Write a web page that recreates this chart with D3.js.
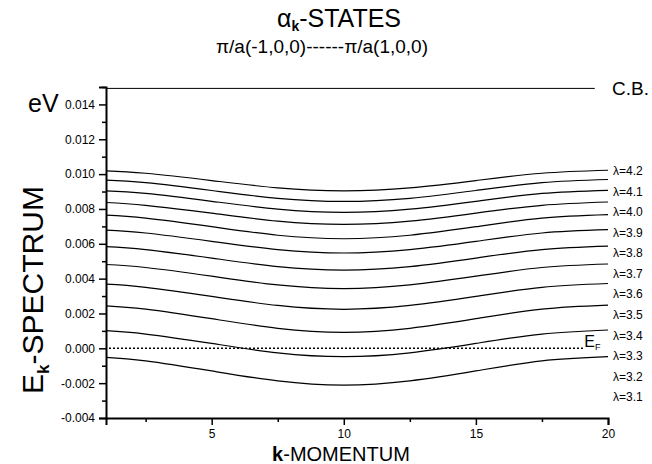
<!DOCTYPE html>
<html lang="en">
  <head>
    <meta charset="UTF-8" />
    <title>alpha-k states</title>
    <script src="https://cdn.jsdelivr.net/npm/d3@7"></script>
    <style>
      body { margin: 0; background: #fff; }
      text { font-family: "Liberation Sans", Arial, sans-serif; fill: #000; }
    </style>
  </head>
  <body>
    <div id="wrapper"></div>
    <script>
      const kPoints = [1, 2.5, 5, 7.5, 10, 12.5, 15, 17.5, 20]
      const lambdas = ['4.2', '4.1', '4.0', '3.9', '3.8', '3.7', '3.6', '3.5', '3.4', '3.3', '3.2', '3.1']
      const e42 = [0.01019, 0.01005, 0.00963, 0.00921, 0.00904, 0.00921, 0.00963, 0.01005, 0.01022]
      const e41 = [0.00966, 0.00951, 0.00906, 0.00861, 0.00843, 0.00861, 0.00906, 0.00951, 0.00969]
      const e40 = [0.00904, 0.00889, 0.00844, 0.00799, 0.00780, 0.00799, 0.00844, 0.00889, 0.00907]
      const e39 = [0.00837, 0.00821, 0.00776, 0.00730, 0.00711, 0.00730, 0.00776, 0.00821, 0.00840]
      const e38 = [0.00764, 0.00747, 0.00698, 0.00649, 0.00629, 0.00649, 0.00698, 0.00747, 0.00767]
      const e37 = [0.00678, 0.00662, 0.00614, 0.00567, 0.00547, 0.00567, 0.00614, 0.00662, 0.00681]
      const e36 = [0.00584, 0.00567, 0.00518, 0.00469, 0.00449, 0.00469, 0.00518, 0.00567, 0.00587]
      const e35 = [0.00481, 0.00464, 0.00414, 0.00364, 0.00343, 0.00364, 0.00414, 0.00464, 0.00484]
      const e34 = [0.00368, 0.00350, 0.00298, 0.00246, 0.00224, 0.00246, 0.00298, 0.00350, 0.00372]
      const e33 = [0.00244, 0.00225, 0.00170, 0.00115, 0.00092, 0.00115, 0.00170, 0.00225, 0.00248]
      const e32 = [0.00101, 0.00082, 0.00028, -0.00026, -0.00048, -0.00026, 0.00028, 0.00082, 0.00105]
      const e31 = [-0.00052, -0.00072, -0.00130, -0.00187, -0.00211, -0.00187, -0.00130, -0.00072, -0.00048]
      const bands = [e42, e41, e40, e39, e38, e37, e36, e35, e34, e33, e32, e31]
      const conductionBand = 0.01492
      const fermiLevel = 0
      const yMajorTicks = [-0.004, -0.002, 0, 0.002, 0.004, 0.006, 0.008, 0.010, 0.012, 0.014]
      const yMinorTicks = [-0.003, -0.001, 0.001, 0.003, 0.005, 0.007, 0.009, 0.011, 0.013, 0.015]
      const xMajorTicks = [5, 10, 15, 20]
      const xMinorTicks = [2.5, 7.5, 12.5, 17.5]

      const dms = {
        width: 652,
        height: 464,
        margin: { top: 87, left: 106, right: 44, bottom: 46 }
      }
      dms.boundedWidth = dms.width - dms.margin.left - dms.margin.right
      dms.boundedHeight = dms.height - dms.margin.top - dms.margin.bottom

      const svg = d3.select('#wrapper').append('svg')
        .attr('width', dms.width)
        .attr('height', dms.height)

      const g = svg.append('g')
        .attr('transform', `translate(${dms.margin.left},${dms.margin.top})`)

      const xScale = d3.scaleLinear().domain([1, 20]).range([0, dms.boundedWidth])
      const yScale = d3.scaleLinear().domain([-0.004, 0.015]).range([dms.boundedHeight, 0])

      const line = d3.line()
        .x((d, i) => xScale(kPoints[i]))
        .y(d => yScale(d))
        .curve(d3.curveNatural)

      g.selectAll('.band').data(bands).join('path')
        .attr('class', 'band')
        .attr('d', line)
        .attr('fill', 'none')
        .attr('stroke', '#000')
        .attr('stroke-width', 1.2)

      // conduction band edge
      g.append('line')
        .attr('x1', xScale(1)).attr('x2', xScale(19.5))
        .attr('y1', yScale(conductionBand)).attr('y2', yScale(conductionBand))
        .attr('stroke', '#000').attr('stroke-width', 1)
      g.append('text')
        .attr('x', xScale(20) + 4).attr('y', yScale(conductionBand) + 7)
        .attr('font-size', 19)
        .text('C.B.')

      // fermi level
      g.append('line')
        .attr('x1', xScale(1) + 3).attr('x2', xScale(19.05))
        .attr('y1', yScale(fermiLevel)).attr('y2', yScale(fermiLevel))
        .attr('stroke', '#000').attr('stroke-width', 1.6)
        .attr('stroke-dasharray', '2,2')
      const ef = g.append('text')
        .attr('x', xScale(19.1)).attr('y', yScale(fermiLevel) - 1)
        .attr('font-size', 16)
      ef.append('tspan').text('E')
      ef.append('tspan').attr('font-size', 9).attr('dy', 3).text('F')

      // lambda labels, evenly spaced down the right side
      const labelY = d3.scalePoint().domain(lambdas).range([171 - dms.margin.top, 397 - dms.margin.top])
      g.selectAll('.lam').data(lambdas).join('text')
        .attr('class', 'lam')
        .attr('x', xScale(20) + 5)
        .attr('y', d => labelY(d))
        .attr('dy', '0.35em')
        .attr('font-size', 12)
        .text(d => 'λ=' + d)

      // axes
      const yAxis = g.append('g')
        .call(d3.axisLeft(yScale).tickValues(yMajorTicks).tickSize(7).tickPadding(4)
          .tickFormat(d => d.toFixed(3)))
      yAxis.selectAll('text').attr('font-size', 12).style('font-family', '"Liberation Sans", Arial, sans-serif')
      g.append('g')
        .call(d3.axisLeft(yScale).tickValues(yMinorTicks).tickSize(4).tickFormat(''))
        .select('.domain').remove()

      const xAxis = g.append('g')
        .attr('transform', `translate(0,${dms.boundedHeight})`)
        .call(d3.axisBottom(xScale).tickValues(xMajorTicks).tickSize(7).tickPadding(4))
      xAxis.selectAll('text').attr('font-size', 12).style('font-family', '"Liberation Sans", Arial, sans-serif')
      g.append('g')
        .attr('transform', `translate(0,${dms.boundedHeight})`)
        .call(d3.axisBottom(xScale).tickValues(xMinorTicks).tickSize(4).tickFormat(''))
        .select('.domain').remove()

      g.selectAll('.domain').attr('stroke-width', 2)
      g.selectAll('.tick line').attr('stroke-width', 1.5)

      // titles
      const title = svg.append('text')
        .attr('x', 339).attr('y', 27)
        .attr('text-anchor', 'middle')
        .attr('font-size', 25)
      title.append('tspan').text('α')
      title.append('tspan').attr('font-size', 14).attr('font-weight', 'bold').attr('dy', 4).text('k')
      title.append('tspan').attr('dy', -4).text('-STATES')

      svg.append('text')
        .attr('x', 322).attr('y', 53)
        .attr('text-anchor', 'middle')
        .attr('font-size', 19)
        .text('π/a(-1,0,0)------π/a(1,0,0)')

      svg.append('text')
        .attr('x', 28).attr('y', 112)
        .attr('font-size', 25)
        .text('eV')

      const yLabel = svg.append('text')
        .attr('transform', 'translate(43,290) rotate(-90)')
        .attr('text-anchor', 'middle')
        .attr('font-size', 30)
      yLabel.append('tspan').text('E')
      yLabel.append('tspan').attr('font-size', 17).attr('font-weight', 'bold').attr('dy', 6).text('k')
      yLabel.append('tspan').attr('dy', -6).text('-SPECTRUM')

      const xLabel = svg.append('text')
        .attr('x', 341).attr('y', 461)
        .attr('text-anchor', 'middle')
        .attr('font-size', 20)
      xLabel.append('tspan').attr('font-weight', 'bold').text('k')
      xLabel.append('tspan').text('-MOMENTUM')
    </script>
  </body>
</html>
